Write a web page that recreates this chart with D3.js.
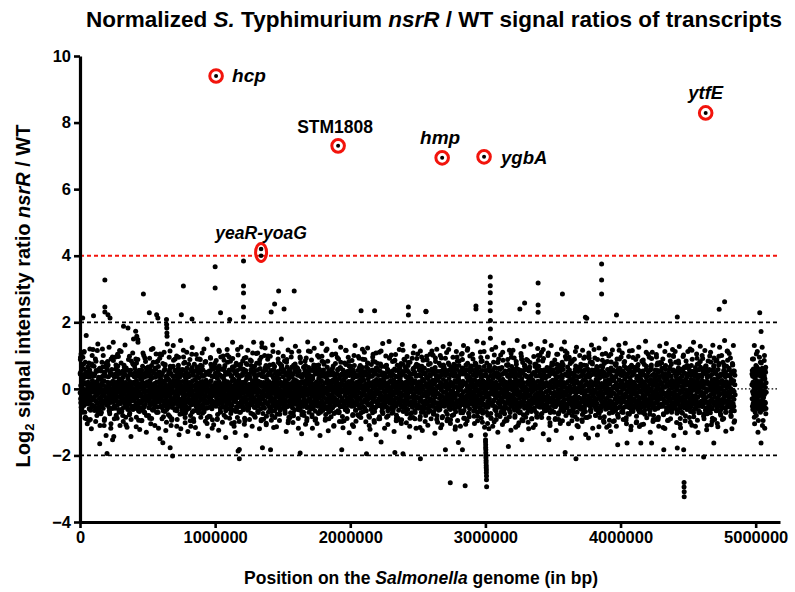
<!DOCTYPE html>
<html><head><meta charset="utf-8">
<script src="https://cdn.jsdelivr.net/npm/d3@7"></script>
<style>
body{margin:0;background:#fff}
svg{display:block}
text{font-family:"Liberation Sans",Arial,Helvetica,sans-serif;font-weight:bold;fill:#000}
</style>
</head><body>
<svg id="chart" width="795" height="592"></svg>
<script>
// ---------- axis ticks / thresholds ----------
const yTickValues = [-4, -2, 0, 2, 4, 6, 8, 10];
const xTickValues = [0, 1000000, 2000000, 3000000, 4000000, 5000000];
const redThreshold = 4;
const blackThresholds = [2, -2];

// ---------- highlighted transcripts ----------
const highlightNames  = ["hcp", "STM1808", "hmp", "ygbA", "ytfE"];
const highlightPosKb  = [1007, 1910, 2680, 2990, 4630];
const highlightRatio  = [9.4, 7.3, 6.94, 6.97, 8.29];
const yeaRName = "yeaR-yoaG";
const yeaRPosKb = [1340, 1340];
const yeaRRatio = [4.2, 4.0];

// ---------- genome-wide transcripts: pairs of [position (kb), log2 ratio x100] ----------
const seg0 = [1,-12,2,45,3,88,5,-30,6,10,8,105,9,-55,11,22,12,-8,14,70,16,-20,17,5,19,-40,20,213,21,95,23,-15,24,30,26,-2,28,60,30,-25,31,112,33,15,35,-70,37,-5,39,80,41,-33,43,18,45,-10,47,50,49,-90,
51,-18,53,12,54,-45,56,3,58,66,59,-28,61,20,63,-7,65,-95,66,35,68,-14,70,8,72,-60,73,120,75,-22,77,0,79,48,80,-35,82,15,84,-120,86,-5,88,75,90,-10,92,25,94,-50,96,-30,98,5,
100,220,101,10,103,-25,105,40,106,-3,108,-65,110,18,112,-12,114,90,115,-35,117,2,119,55,121,-20,123,-8,125,-80,126,22,128,-40,130,14,132,135,134,-15,136,-2,138,30,140,-55,142,8,144,-28,146,62,148,-110,149,0,
151,5,152,-30,154,28,156,-10,158,-70,160,16,161,-22,163,80,165,-4,167,-45,169,12,170,-18,172,100,174,-36,176,24,178,-6,180,50,182,-90,184,327,184,246,184,231,185,-12,187,7,189,-25,191,38,193,-140,195,-1,197,-32,199,65,
200,-194,201,-8,203,20,204,-48,206,-2,207,223,208,72,210,-26,211,11,213,-15,215,125,217,-37,219,4,220,-75,222,213,222,18,224,-20,226,42,228,-9,229,-105,231,15,233,-30,235,58,237,0,239,-12,241,-153,243,23,245,-40,247,85,249,-18,
250,-143,252,8,254,-27,255,35,257,-6,259,-58,261,19,263,-14,264,96,266,-33,268,1,270,47,272,-22,273,13,275,-88,277,-4,279,68,281,-38,282,21,284,-10,286,-62,288,6,290,30,292,-24,293,115,295,-2,297,-45,299,10,
301,14,302,-20,304,78,306,-35,308,2,309,-68,311,24,313,-11,315,52,317,-28,318,-3,320,-98,322,188,322,17,324,-16,326,40,327,-42,329,8,331,-7,333,132,335,-30,337,19,339,-52,341,-1,342,63,344,-21,346,11,348,-115,350,-36,
352,-9,354,30,355,183,355,-25,357,5,359,88,361,-47,363,15,364,-13,366,-78,368,22,370,-31,372,2,374,56,375,-18,377,-143,379,9,381,-4,383,44,384,-60,386,18,388,-23,390,108,392,-8,394,-35,395,73,397,1,399,-14,
400,20,402,-32,404,-6,406,61,407,-50,409,13,411,-19,412,173,413,90,415,-3,417,-85,418,25,420,158,420,-27,422,7,424,38,426,-44,428,148,428,-12,429,140,431,3,433,-66,435,16,437,-37,439,49,440,-9,442,-122,444,12,446,-22,448,30,
451,-16,452,4,454,-41,456,27,458,-95,460,10,461,-24,463,68,465,-1,467,-55,469,285,469,18,470,-30,472,100,474,-11,476,35,478,-70,480,6,481,-35,483,-5,485,82,487,-20,489,14,491,-130,493,-28,494,45,496,-8,498,21];

const seg1 = [501,12,503,-22,504,55,506,-7,508,-80,510,19,511,-33,513,229,513,4,515,92,517,-15,519,-48,520,26,522,-2,524,-105,526,14,528,-26,529,70,531,-10,533,33,535,-62,537,8,539,-18,540,121,542,-38,544,0,546,47,548,-12,
551,-28,552,16,554,-3,556,63,558,-44,560,9,562,-19,563,105,565,-35,567,223,567,20,569,-70,570,-6,572,38,574,-14,576,213,576,84,578,-25,579,2,581,-118,583,22,585,-9,587,51,589,-40,590,11,592,-150,594,-21,596,30,598,-1,
600,7,602,-31,604,44,606,-12,607,-90,609,17,611,-23,613,-162,613,76,615,-4,617,-50,619,23,620,-16,622,110,624,-36,626,3,628,59,629,-68,631,13,633,-8,635,-125,637,25,639,-27,640,208,641,193,642,183,643,168,644,158,644,-1,646,40,648,-17,
651,-20,652,10,654,-56,656,29,658,-9,660,95,661,-38,663,5,665,-83,667,-177,667,18,669,-25,670,48,672,-2,674,-110,676,21,678,-14,679,66,681,-33,683,1,685,-202,685,12,687,-48,689,-7,690,130,692,24,694,-29,696,37,698,-11,
700,15,702,-24,704,-64,706,8,708,52,709,-13,711,-37,713,18,715,99,717,-5,719,-92,720,27,722,-19,724,2,726,-46,728,71,729,-28,731,12,733,-138,735,-9,737,34,739,-52,740,20,742,-2,744,145,746,-33,748,6,
750,223,751,-14,752,9,754,-39,756,58,758,-6,760,-75,761,22,763,-26,765,309,765,116,767,-11,769,42,770,-59,772,4,774,-21,776,80,778,-102,779,16,781,-32,783,-3,785,26,787,-65,789,13,790,-17,792,61,794,-40,796,1,798,-128,
800,11,802,-29,804,36,806,-8,807,-57,809,19,811,-20,813,88,815,-2,817,-44,819,17,820,-112,822,5,824,-34,826,53,828,-15,829,210,830,124,831,-70,833,24,835,-6,837,-27,839,41,840,-90,842,9,844,-18,846,74,848,-37,
851,-4,852,28,854,-48,856,13,858,-22,860,103,861,-31,863,0,865,-66,867,19,869,-12,870,62,872,-39,874,6,876,-135,878,-17,879,33,881,-7,883,90,885,-53,887,15,889,-25,890,-2,892,47,894,-85,896,21,898,-10,
900,-33,902,8,904,69,906,-16,907,-73,909,22,911,-5,913,38,915,-28,917,120,919,-1,920,-44,922,14,924,-20,926,81,928,-97,929,4,931,-36,933,26,935,-9,937,-58,939,17,940,150,942,-23,944,2,946,-142,948,45,
951,12,952,-26,954,-7,956,54,958,-40,960,20,961,-15,963,-83,965,94,967,-2,969,-32,970,24,972,-11,974,66,976,-60,978,7,979,-21,981,132,983,-37,985,10,987,-4,989,-108,990,36,992,-18,994,3,996,-50,998,77];

const seg2 = [1000,367,1000,303,1001,-9,1003,18,1004,-45,1006,5,1008,85,1010,-27,1011,14,1013,-14,1015,-92,1017,31,1019,-6,1020,-33,1022,50,1024,8,1026,-124,1028,-19,1029,22,1031,112,1033,-40,1035,0,1037,41,1039,-68,1040,229,1041,15,1042,-11,1044,60,1046,-28,1048,2,
1051,-21,1052,7,1054,34,1056,-52,1058,-3,1060,99,1061,-36,1063,17,1065,-15,1067,-79,1069,26,1070,-8,1072,70,1074,-30,1076,4,1078,-146,1079,13,1081,-25,1083,45,1085,-58,1087,-1,1089,118,1090,-19,1092,21,1094,-42,1096,9,1098,-7,
1100,16,1102,-34,1104,57,1106,-10,1107,-88,1108,208,1109,3,1111,-23,1113,83,1115,-47,1117,11,1119,-16,1120,38,1122,-104,1124,-4,1126,24,1128,-29,1129,140,1131,6,1133,-64,1135,-13,1137,29,1139,-38,1140,-2,1142,67,1144,-20,1146,12,1148,-131,
1151,-6,1152,22,1154,-30,1156,77,1158,-54,1160,5,1161,-18,1163,40,1165,-86,1167,14,1169,-26,1170,-187,1170,102,1172,-9,1174,28,1176,-43,1178,1,1179,-182,1179,-210,1181,18,1183,-21,1185,60,1187,-70,1189,8,1190,-12,1192,126,1194,-35,1196,19,1198,-3,
1200,10,1202,-27,1204,47,1206,-14,1208,-63,1210,384,1210,309,1210,288,1210,246,1210,216,1211,20,1213,-5,1215,92,1217,-39,1219,3,1220,-96,1222,16,1224,-24,1226,55,1228,-11,1229,-140,1231,27,1233,-33,1235,8,1237,73,1239,-49,1240,-1,1242,116,1244,-20,1246,13,1248,-59,
1251,-17,1252,6,1254,-44,1256,32,1258,-8,1260,87,1261,-30,1263,14,1265,-73,1267,-2,1269,49,1270,-22,1272,9,1274,-112,1276,24,1278,-13,1279,64,1281,-37,1283,2,1285,140,1287,-26,1289,18,1290,-55,1292,-6,1294,36,1296,-85,1298,11,
1300,-9,1302,29,1304,-35,1306,4,1307,77,1309,-50,1311,16,1313,-19,1315,108,1317,-1,1319,-66,1320,23,1322,-28,1324,43,1326,-10,1328,-120,1329,12,1331,-40,1333,61,1335,-7,1337,20,1339,-24,1341,95,1342,-46,1344,7,1345,138,1346,126,1346,-15,1350,-177,
1351,14,1352,-31,1354,52,1356,-12,1358,-91,1360,19,1361,-4,1363,36,1365,-58,1367,8,1369,-22,1370,123,1372,-37,1374,1,1376,70,1378,-103,1379,15,1381,-16,1383,28,1385,-44,1387,-3,1389,89,1390,-25,1392,10,1394,-70,1396,46,1398,-8,
1400,21,1402,-19,1404,-60,1406,6,1408,98,1410,-34,1410,-183,1411,12,1413,-9,1415,231,1415,55,1417,-27,1419,2,1420,-80,1422,17,1424,-14,1426,132,1428,-41,1429,5,1431,33,1433,-116,1435,-6,1437,22,1439,-30,1440,255,1440,67,1442,-1,1444,-52,1446,13,1448,-20,
1451,-12,1452,26,1454,-38,1456,9,1458,-76,1460,44,1461,-3,1463,18,1465,-24,1467,109,1469,-48,1470,294,1470,1,1472,31,1474,-15,1476,-95,1478,14,1479,-29,1481,75,1483,-6,1485,-60,1487,20,1489,-19,1490,150,1492,-36,1494,7,1496,-10,1498,50];

const seg3 = [1500,-27,1502,11,1504,58,1506,-8,1508,-45,1510,240,1510,16,1511,-21,1513,84,1515,-2,1517,-68,1519,25,1520,-33,1522,4,1524,41,1526,-128,1528,-15,1529,19,1531,-4,1533,66,1535,-53,1537,8,1539,-23,1540,117,1542,-11,1544,30,1546,-85,1548,2,
1551,15,1552,-36,1554,-6,1556,48,1558,-72,1560,12,1561,-18,1563,96,1565,-29,1567,3,1569,35,1570,-50,1572,-12,1574,20,1576,-101,1578,9,1579,-25,1581,71,1583,-40,1585,294,1585,-1,1587,27,1589,-63,1590,14,1592,-16,1594,128,1596,-31,1598,5,
1600,-8,1602,24,1604,-47,1606,10,1608,-22,1610,62,1611,-35,1613,1,1615,-89,1617,18,1619,-13,1620,113,1622,-27,1624,6,1626,40,1628,-60,1629,-193,1629,15,1631,-4,1633,79,1635,-38,1637,21,1639,-19,1640,-135,1642,3,1644,34,1646,-50,1648,-10,
1651,18,1652,-24,1654,65,1656,-3,1658,-80,1660,22,1661,-31,1663,8,1665,44,1667,-16,1669,-106,1670,12,1672,-41,1674,93,1676,-7,1678,27,1679,-56,1681,0,1683,-20,1685,141,1687,15,1689,-34,1690,53,1692,-12,1694,-70,1696,25,1698,-2,
1700,-30,1702,7,1704,36,1706,-15,1708,-61,1710,19,1711,-4,1713,87,1715,-43,1717,11,1719,-23,1720,-118,1722,30,1724,-9,1726,58,1728,-37,1729,3,1731,-18,1733,122,1735,-50,1737,16,1739,-6,1740,45,1742,-28,1744,-90,1746,9,1748,70,
1751,-13,1752,21,1754,-33,1756,2,1758,100,1760,-46,1761,14,1763,-21,1765,-74,1767,32,1769,-8,1770,60,1772,-27,1774,5,1776,-140,1778,19,1779,-11,1781,43,1783,-55,1785,-1,1787,24,1789,-36,1790,136,1792,8,1794,-19,1796,-65,1798,50,
1800,6,1802,-25,1804,-8,1806,74,1808,-49,1810,17,1811,-14,1813,39,1815,-94,1817,2,1819,-30,1820,115,1822,20,1824,-10,1826,-60,1828,28,1829,-38,1831,4,1833,83,1835,-17,1837,-126,1839,13,1840,-27,1842,55,1844,-5,1846,-42,1848,23,
1851,-19,1852,9,1854,48,1856,-32,1858,-84,1860,15,1861,-2,1863,102,1865,-23,1867,6,1869,-57,1870,26,1872,-12,1874,69,1876,-36,1878,1,1879,-110,1881,19,1883,-26,1885,37,1887,-7,1889,-71,1890,145,1892,11,1894,-40,1896,28,1898,-14,
1900,21,1902,-33,1904,3,1906,57,1908,-66,1910,13,1911,-18,1913,90,1915,-45,1917,-4,1919,31,1920,-98,1922,8,1924,-22,1926,64,1928,-11,1929,125,1931,-37,1933,17,1935,-1,1937,-183,1937,-52,1939,24,1940,-29,1942,43,1944,-8,1946,-117,1948,12,
1951,-6,1952,27,1954,-41,1956,10,1958,78,1960,-20,1961,2,1963,-63,1965,34,1967,-15,1969,115,1970,-34,1972,18,1974,-3,1976,-89,1978,52,1979,-27,1981,7,1983,-12,1985,95,1987,-48,1989,22,1990,-9,1992,-132,1994,40,1996,-24,1998,5];

const seg4 = [2000,14,2002,-28,2004,62,2006,-5,2008,-52,2010,23,2011,-16,2013,85,2015,-35,2017,4,2019,-77,2020,31,2022,-10,2024,-113,2026,16,2028,-23,2029,48,2031,-42,2033,1,2035,130,2037,-19,2039,9,2040,-64,2042,36,2044,-8,2046,-30,2048,20,
2051,-22,2052,6,2054,39,2056,-46,2058,-3,2060,97,2061,-31,2063,18,2065,-82,2067,-12,2069,26,2070,-58,2072,11,2074,70,2076,-27,2078,2,2079,-150,2080,235,2081,21,2083,-15,2085,54,2087,-38,2089,8,2090,119,2092,-20,2094,-69,2096,29,2098,-5,
2100,-11,2102,25,2104,-57,2106,7,2108,88,2110,-32,2111,13,2113,-19,2115,-99,2117,41,2119,-2,2120,-195,2120,66,2122,-40,2124,15,2126,-24,2128,123,2129,4,2131,-47,2133,30,2135,-9,2137,-81,2139,19,2140,-29,2142,50,2144,-14,2146,-121,2148,10,
2151,17,2152,-26,2154,-6,2156,73,2158,-43,2160,11,2161,-21,2163,38,2165,-72,2167,3,2169,104,2170,-34,2172,22,2174,-11,2176,-95,2178,46,2179,-25,2180,235,2181,6,2183,-17,2185,81,2187,-55,2189,14,2190,-3,2192,-138,2194,28,2196,-37,2198,63,
2200,-8,2202,20,2204,-39,2206,56,2208,-15,2210,-90,2211,9,2213,-28,2215,110,2217,1,2219,-50,2220,26,2222,-12,2224,75,2226,-33,2228,-160,2229,17,2231,-20,2233,42,2235,-67,2237,4,2239,-25,2240,136,2242,13,2244,-45,2246,30,2248,-6,
2251,22,2252,-35,2254,-10,2256,67,2258,-52,2260,8,2261,-19,2263,99,2265,-28,2267,15,2269,-85,2270,35,2272,-3,2274,-23,2276,58,2278,-107,2279,11,2281,-40,2283,19,2285,-9,2287,142,2289,-31,2290,3,2292,-60,2294,44,2296,-16,2298,25,
2300,-25,2302,4,2304,48,2306,-38,2308,-73,2310,18,2311,-7,2313,82,2315,-19,2317,10,2319,-56,2320,27,2322,-33,2324,-128,2326,6,2328,60,2329,-14,2330,-191,2331,21,2333,-44,2335,103,2337,-2,2339,-27,2340,37,2342,-88,2344,13,2346,-11,2348,71,
2351,9,2352,-30,2354,55,2356,-5,2358,-64,2360,23,2361,-17,2363,118,2365,-41,2367,2,2369,30,2370,-95,2372,14,2374,-24,2376,76,2378,-12,2379,-50,2381,20,2383,-35,2385,133,2387,7,2389,-20,2390,-195,2390,45,2392,-68,2394,11,2396,-3,2398,89,
2400,-18,2402,16,2404,-49,2406,3,2408,64,2410,-29,2411,20,2413,-8,2415,-102,2417,35,2419,-21,2420,97,2422,-36,2424,9,2426,-62,2428,24,2429,-13,2430,246,2430,222,2431,51,2433,-45,2435,1,2437,-145,2439,18,2440,-26,2442,80,2444,-4,2446,-75,2448,27,
2451,-9,2452,30,2454,-40,2456,12,2458,92,2460,-54,2461,5,2463,-22,2465,-86,2467,47,2469,-15,2470,19,2472,-31,2474,128,2476,-1,2478,-66,2479,24,2481,-37,2483,68,2485,-10,2487,-118,2489,15,2490,-24,2492,40,2494,-48,2496,7,2498,105];

const seg5 = [2500,13,2502,-27,2504,-4,2506,70,2508,-58,2510,21,2511,-13,2513,43,2515,-91,2517,2,2519,-210,2519,114,2521,-33,2522,18,2524,-8,2526,-70,2528,56,2529,-23,2531,9,2533,-125,2535,29,2537,-39,2539,86,2540,-2,2542,-50,2544,24,2546,-16,2548,62,
2551,-20,2552,10,2554,45,2556,-36,2558,-80,2560,233,2560,232,2561,16,2563,-9,2565,98,2567,-44,2569,5,2570,-25,2572,31,2574,-109,2576,12,2578,-17,2579,73,2581,-54,2583,-3,2585,140,2587,22,2589,-30,2590,-66,2592,38,2594,-11,2596,8,2598,-90,
2600,18,2602,-32,2604,60,2606,-7,2608,-48,2610,26,2611,-19,2613,101,2615,1,2617,-74,2619,14,2620,-37,2622,47,2624,-12,2626,-133,2628,20,2629,-25,2631,82,2633,-5,2635,-59,2637,30,2639,-15,2640,119,2642,-42,2644,7,2646,-100,2648,52,
2651,-14,2652,25,2654,-47,2656,4,2658,77,2660,-29,2661,11,2663,-62,2665,36,2667,-20,2669,-117,2670,18,2672,-3,2674,93,2676,-39,2678,9,2679,-23,2681,55,2683,-83,2685,-8,2687,127,2689,28,2690,-35,2692,-11,2694,64,2696,-52,2698,6,
2700,-26,2702,15,2704,-183,2704,40,2706,-9,2708,-68,2710,22,2711,-38,2713,109,2715,3,2717,-16,2719,52,2720,-90,2722,12,2724,-28,2726,78,2728,-1,2729,-56,2731,31,2733,-18,2735,135,2737,-44,2739,8,2740,-282,2741,-104,2742,20,2744,-10,2746,66,2748,-33,
2751,10,2752,-22,2754,49,2756,-41,2758,-5,2760,95,2761,-30,2763,17,2765,-78,2767,4,2769,38,2770,-60,2772,-13,2774,24,2776,-121,2778,-24,2779,70,2781,6,2783,-45,2785,112,2787,-15,2789,19,2790,-36,2792,58,2794,-95,2796,2,2798,26,
2800,-161,2800,-6,2802,28,2804,-35,2806,84,2808,-53,2810,11,2811,-20,2813,45,2815,-112,2817,-2,2819,19,2820,-30,2822,104,2824,-47,2826,8,2828,-17,2830,-183,2830,63,2832,-72,2834,23,2836,-9,2838,130,2840,-40,2842,14,2844,-26,2846,-88,2848,50,2850,-291,
2851,17,2852,-31,2854,-7,2856,72,2858,-50,2860,13,2861,-21,2863,35,2865,-96,2867,4,2869,121,2870,-38,2872,25,2874,-12,2876,-73,2878,57,2879,-26,2881,9,2883,-60,2885,99,2887,-4,2889,-19,2890,30,2892,-140,2894,18,2896,-33,2898,68,
2900,-10,2902,21,2904,-44,2906,5,2908,90,2910,-28,2911,14,2913,-67,2915,41,2917,-17,2919,-104,2920,27,2922,-6,2924,78,2926,-37,2928,2,2929,-23,2930,249,2930,240,2931,60,2933,-52,2935,12,2937,143,2939,-30,2940,19,2942,-82,2944,-9,2946,47,2948,-20,
2951,23,2952,-34,2954,-3,2956,66,2958,-57,2960,10,2961,-18,2963,111,2965,-40,2967,1,2969,34,2970,-88,2972,17,2974,-26,2976,84,2978,-11,2979,-64,2981,25,2983,-31,2985,138,2987,6,2989,-46,2990,40,2992,-14,2994,-115,2996,20,2998,-2];

const seg6 = [3000,-138,3001,-153,3001,-160,3002,-168,3002,-176,3003,-183,3003,-192,3004,-200,3004,-207,3005,-215,3005,-222,3006,-230,3006,-237,3007,-244,3007,-252,3008,-262,3008,-273,3009,-294,
3001,12,3003,-24,3005,55,3007,-8,3009,-70,3011,18,3013,-14,3015,96,3017,-37,3019,3,3020,-55,3022,29,3024,-19,3026,-120,3028,14,3030,-30,3031,69,3033,6,3035,-43,3036,336,3036,310,3036,289,3036,259,3036,235,3037,205,3037,180,3037,152,3038,-11,3040,40,3042,-88,3044,22,3046,-3,3048,118,
3051,-16,3052,9,3054,-49,3056,31,3058,-2,3060,80,3061,-34,3063,16,3065,-99,3067,-10,3069,47,3070,-62,3072,5,3074,-22,3076,125,3078,20,3079,-28,3081,-7,3083,61,3085,-78,3087,13,3089,-18,3090,34,3092,-130,3094,2,3096,-40,3098,90,
3100,8,3102,-21,3104,43,3106,-13,3108,-83,3110,25,3111,-32,3113,102,3115,0,3117,-56,3119,17,3120,-27,3122,64,3124,-9,3126,-107,3128,29,3129,-38,3131,12,3133,138,3135,-17,3137,-66,3139,22,3140,-4,3142,50,3144,-46,3146,7,3148,-25,
3151,-12,3152,20,3154,-41,3156,72,3158,-6,3160,-95,3161,15,3163,-23,3165,88,3167,-35,3169,3,3170,-173,3170,37,3172,-60,3174,10,3176,-16,3178,116,3179,-30,3181,24,3183,-71,3185,-1,3187,45,3189,-124,3190,13,3192,-20,3194,67,3196,-39,3198,5,
3200,-23,3202,14,3204,-5,3206,59,3208,-44,3210,21,3211,-15,3213,93,3215,-29,3217,7,3219,-80,3220,33,3222,-10,3224,-115,3226,18,3228,-34,3229,74,3231,1,3233,-52,3235,145,3237,-19,3239,25,3240,-63,3242,11,3244,-8,3246,40,3248,-102,
3251,16,3252,-28,3254,51,3255,240,3256,-9,3258,-69,3260,24,3261,-17,3263,106,3265,-40,3267,4,3269,31,3270,-153,3270,-92,3272,12,3274,-22,3276,79,3278,-3,3279,-48,3281,19,3283,-31,3285,127,3287,8,3289,-15,3290,258,3290,-58,3292,42,3294,-11,3296,65,3298,-85,
3300,2,3302,-26,3304,37,3306,-14,3308,-73,3310,20,3311,-6,3313,85,3315,-42,3317,13,3319,-22,3320,-120,3322,28,3324,-35,3326,61,3328,-2,3329,-59,3331,17,3333,-18,3335,134,3337,5,3339,-47,3340,30,3342,-9,3344,-90,3346,22,3348,-28,
3351,-7,3352,26,3354,-43,3356,10,3358,97,3360,-31,3361,4,3363,-64,3365,48,3367,-19,3369,-108,3370,18,3372,-1,3374,75,3376,-37,3378,9,3379,-24,3381,56,3383,-85,3385,-12,3387,121,3389,23,3390,318,3390,252,3390,230,3391,-33,3392,-15,3394,68,3396,-52,3398,3,
3400,-20,3402,12,3404,-55,3406,38,3408,-5,3410,-77,3411,21,3413,-29,3415,110,3417,1,3419,-41,3420,27,3422,-13,3424,84,3426,-34,3428,-135,3429,15,3431,-22,3433,46,3435,-61,3437,6,3439,-27,3440,142,3442,10,3444,-47,3446,33,3448,-9,
3451,19,3452,-33,3454,-8,3456,64,3458,-50,3460,8,3461,-20,3463,100,3465,-25,3467,14,3469,-88,3470,-153,3470,39,3472,-4,3474,-30,3476,59,3478,-110,3479,13,3481,-39,3483,21,3485,-12,3487,130,3489,-28,3490,5,3492,-65,3494,47,3496,-15,3498,26];

const seg7 = [3500,-30,3502,3,3504,50,3506,-38,3508,-70,3510,16,3511,-10,3513,87,3515,-21,3517,11,3519,-53,3520,29,3522,-35,3524,-125,3526,7,3528,61,3529,-16,3531,23,3533,-44,3535,104,3537,-3,3539,-27,3540,36,3542,-92,3544,15,3546,-12,3548,70,
3551,10,3552,-26,3554,58,3556,-4,3558,-63,3560,24,3561,-17,3563,120,3565,-40,3567,3,3569,33,3570,285,3570,-96,3572,13,3574,-22,3576,72,3578,-10,3579,-51,3581,19,3583,-33,3585,141,3587,6,3589,-20,3590,-191,3590,-45,3592,44,3594,-7,3596,-80,3598,90,
3600,-18,3602,17,3604,-46,3606,2,3608,66,3610,-31,3611,22,3613,-6,3615,-105,3617,37,3619,-23,3620,95,3622,-38,3624,8,3626,-67,3628,26,3629,-12,3631,47,3633,-40,3635,1,3637,-148,3639,20,3640,-27,3642,82,3644,-2,3646,-60,3648,30,
3651,-8,3652,28,3654,-36,3656,13,3658,89,3660,-56,3661,4,3663,-24,3665,-84,3667,52,3669,-14,3670,-210,3670,18,3672,-30,3674,125,3676,-1,3678,-70,3679,23,3681,-38,3683,62,3685,-9,3687,-114,3689,16,3690,-25,3692,36,3694,-49,3696,7,3698,100,
3700,15,3702,-29,3704,-3,3706,74,3708,-61,3710,19,3711,-12,3713,41,3715,-93,3717,5,3719,116,3720,-35,3722,26,3724,-11,3726,-71,3728,54,3729,-24,3731,9,3733,-57,3735,96,3737,-5,3739,-18,3740,215,3740,31,3742,-137,3744,14,3746,-32,3748,70,3750,212,
3751,20,3752,-37,3754,-6,3756,60,3758,-48,3760,11,3761,-21,3763,-148,3765,108,3765,-40,3767,2,3769,35,3770,-83,3772,15,3774,-27,3776,80,3778,-9,3779,-62,3781,22,3783,-34,3785,132,3787,8,3789,-50,3790,43,3792,-16,3794,-118,3796,18,3798,-3,
3800,-22,3802,13,3804,52,3806,-42,3808,-5,3810,93,3811,-28,3813,17,3815,-79,3817,-11,3819,28,3820,-54,3822,9,3824,67,3826,-30,3828,1,3829,-139,3831,21,3833,-16,3835,45,3837,-70,3839,4,3840,123,3842,-24,3844,32,3846,-10,3848,-86,
3851,11,3852,-32,3854,-7,3856,69,3858,-55,3860,375,3860,327,3860,285,3861,16,3863,-19,3865,104,3867,-41,3869,5,3870,-25,3872,37,3874,-96,3876,13,3878,-14,3879,76,3881,-46,3883,-2,3885,150,3887,24,3889,-33,3890,-61,3892,40,3894,-10,3896,8,3898,-115,
3900,20,3902,-27,3904,58,3906,-3,3908,-50,3910,27,3911,-17,3913,99,3915,0,3917,-73,3919,15,3920,-36,3922,48,3924,-11,3926,-128,3928,22,3929,-22,3931,81,3933,-6,3935,-60,3937,31,3939,-14,3940,117,3942,-43,3944,6,3946,-98,3948,55,
3951,-13,3952,24,3954,-48,3956,3,3958,75,3960,-30,3961,10,3963,-65,3965,37,3967,-20,3969,-112,3970,222,3970,17,3972,-2,3974,90,3976,-38,3978,8,3979,-168,3979,-24,3981,58,3983,-85,3985,-9,3987,131,3989,27,3990,-34,3992,-12,3994,62,3996,-53,3998,6];

const seg8 = [4000,-26,4002,16,4004,42,4006,-9,4008,-69,4010,23,4011,-36,4013,108,4015,2,4017,-18,4019,53,4020,-92,4022,13,4024,-28,4026,79,4028,-1,4029,-55,4031,30,4033,-20,4035,137,4037,-40,4039,8,4040,-15,4042,63,4044,-105,4046,21,4048,-163,4050,-6,
4051,14,4052,-24,4054,60,4056,-44,4058,-4,4060,97,4061,-31,4063,19,4065,-76,4067,4,4069,34,4070,-57,4072,-12,4074,25,4076,-123,4078,10,4079,-21,4081,71,4083,-48,4085,-3,4087,115,4089,18,4090,-33,4092,-68,4094,44,4096,-14,4098,7,
4100,20,4102,-30,4104,-7,4106,57,4108,-52,4110,12,4111,-16,4113,88,4115,-39,4117,2,4119,-99,4120,31,4122,-22,4124,5,4126,69,4128,-11,4129,-62,4131,24,4133,-35,4135,125,4137,9,4139,-26,4140,-113,4142,38,4144,-5,4146,-45,4148,15,4150,-163,
4151,-10,4152,27,4154,-42,4156,8,4158,84,4160,-28,4161,16,4163,-71,4165,46,4167,-19,4169,1,4170,-106,4172,21,4174,-34,4176,73,4178,-6,4179,-53,4181,13,4183,-23,4185,143,4187,4,4189,-47,4190,35,4192,-12,4194,-87,4196,25,4198,-2,
4200,-33,4202,7,4204,51,4206,-15,4208,-60,4210,22,4211,-8,4213,95,4215,-41,4217,15,4219,-25,4220,-130,4222,28,4224,-3,4226,65,4228,-37,4229,1,4230,-163,4231,18,4233,-20,4235,110,4237,-51,4239,10,4240,-11,4242,40,4244,-80,4246,26,4248,-29,
4251,12,4252,-18,4254,-44,4256,36,4258,-6,4260,-92,4261,17,4263,-27,4265,103,4267,3,4269,-39,4270,25,4272,-13,4274,78,4276,-58,4278,8,4279,-22,4281,50,4283,-112,4285,-1,4287,30,4289,-31,4290,129,4292,14,4294,-47,4296,21,4298,-9,
4300,-21,4302,18,4304,-1,4306,62,4308,-49,4310,11,4311,-29,4313,90,4315,-10,4317,-75,4319,33,4320,-183,4320,4,4322,-35,4324,44,4326,-16,4328,-119,4329,23,4331,-40,4333,70,4335,7,4337,-23,4339,136,4340,-57,4342,15,4344,-12,4346,29,4348,-95,
4351,9,4352,-25,4354,47,4356,-38,4358,-4,4360,101,4361,-19,4363,20,4365,-64,4367,-11,4369,38,4370,-90,4372,12,4374,-30,4376,75,4378,2,4379,-51,4381,26,4383,-15,4385,118,4387,-42,4389,6,4390,-27,4392,57,4394,-140,4396,17,4398,-8,
4400,-14,4402,22,4404,-50,4406,5,4408,80,4410,-33,4411,14,4413,-21,4415,-101,4417,43,4419,-3,4420,216,4420,-178,4420,28,4422,-39,4424,9,4426,-69,4428,63,4429,-17,4431,18,4433,-28,4435,127,4437,-6,4439,-58,4440,32,4442,-12,4444,-117,4446,21,4448,-35,
4451,7,4452,-26,4454,56,4456,-9,4458,-73,4460,24,4461,-40,4463,97,4465,-1,4467,-183,4467,-55,4469,16,4470,-281,4470,-295,4471,-309,4471,-324,4472,-20,4474,66,4476,-32,4478,10,4479,-132,4481,27,4483,-13,4485,84,4487,-45,4489,-4,4490,35,4492,-62,4494,19,4496,-25,4498,112];

const seg9 = [4500,-16,4502,11,4504,-43,4506,46,4508,-7,4510,-86,4511,20,4513,-30,4515,120,4517,3,4519,-55,4520,28,4522,-12,4524,70,4526,-36,4528,-109,4529,14,4531,-22,4533,52,4535,-4,4537,-67,4539,25,4540,140,4542,-28,4544,8,4546,-46,4548,37,
4551,-21,4552,17,4554,64,4556,-3,4558,-59,4560,22,4561,-34,4563,105,4565,-11,4567,9,4569,-94,4570,30,4572,-25,4574,-131,4576,15,4578,-6,4579,76,4581,-43,4583,2,4585,41,4587,-70,4589,19,4590,128,4592,-19,4594,-38,4596,10,4598,58,
4600,-10,4602,26,4604,-36,4606,4,4608,91,4610,-52,4611,12,4613,-24,4615,-205,4615,-82,4617,47,4619,-15,4620,21,4622,-31,4624,115,4626,1,4628,-64,4629,16,4631,-27,4633,69,4635,-9,4637,-123,4639,23,4640,-40,4642,35,4644,-2,4646,-57,4648,84,
4651,13,4652,-22,4654,-48,4656,39,4658,-4,4660,99,4661,-37,4663,18,4665,-72,4667,5,4669,-18,4670,56,4672,-108,4674,10,4676,-30,4678,27,4679,-60,4681,-7,4683,131,4685,20,4687,-42,4689,2,4690,-163,4690,66,4692,-15,4694,29,4696,-92,4698,8,
4700,-25,4702,15,4704,50,4706,-11,4708,-66,4710,24,4711,-3,4713,87,4715,-40,4717,12,4719,-28,4720,-114,4722,34,4724,-8,4726,72,4728,-47,4729,4,4730,239,4731,-19,4733,125,4735,21,4737,-33,4739,-75,4740,43,4742,-1,4744,-52,4746,16,4748,100,
4751,-14,4752,25,4754,-41,4756,8,4758,80,4760,-30,4761,18,4763,-89,4765,-6,4767,55,4769,-24,4770,262,4770,145,4772,10,4774,-58,4776,36,4778,-13,4779,-127,4781,22,4783,-37,4785,68,4787,3,4789,-20,4790,113,4792,-49,4794,14,4796,-9,4798,40,
4800,-27,4802,11,4804,62,4806,-16,4808,-54,4810,20,4811,-38,4813,93,4815,1,4817,-79,4819,29,4820,-10,4822,47,4824,-120,4826,17,4828,-25,4829,73,4831,-4,4833,-44,4835,130,4837,24,4839,-31,4840,-8,4842,54,4844,-96,4846,12,4848,-18];

const segEnd = [4972,12,4974,-30,4975,55,4977,-8,4979,-62,4980,20,4982,-15,4984,90,4985,-40,4987,5,4989,-22,4990,130,4992,-105,4993,33,4995,-5,4997,-48,4998,14,5000,-28,5002,70,5003,-12,5005,-80,5007,25,5008,-35,5010,2,5012,112,5013,-18,5015,42,5017,-130,5018,8,5020,-24,5022,60,5023,-55,5025,17,5027,-9,5028,95,5030,229,5030,-38,5032,22,5033,-3,5035,-70,5037,38,5038,-20,5040,172,5040,-163,5040,6,5042,78,5043,-45,5045,15,5047,-14,5048,125,5050,-32,5052,28,5053,-6,5055,-95,5057,50,5058,-26,5060,10,5062,-60,5063,85,5065,-17,5067,-118,5068,30,5070,-40,5072,4,5074,65,5075,-75,5077,18,5078,-10];

// second probe set (same layout): [position (kb), log2 ratio x100]
const probes0 = [2,48,6,-42,10,55,14,-58,18,40,22,-37,26,75,30,-50,34,44,38,-88,42,36,46,160,52,-45,56,52,60,-39,64,41,68,-60,72,57,76,-92,80,38,84,-47,88,70,92,-54,96,118,
102,39,106,-51,110,46,114,-36,118,83,122,-57,126,53,130,-44,134,-72,138,35,142,59,146,-165,152,-40,156,54,160,-49,164,37,168,66,172,-58,176,42,180,-95,184,50,188,-38,192,77,196,-48,
202,58,206,-44,210,36,214,-55,218,-68,222,49,226,-41,230,90,234,45,238,-59,242,-36,246,140,252,-52,256,43,260,-37,264,60,268,-79,272,38,276,-49,280,55,284,97,288,-43,292,46,296,-110,
302,47,306,-40,310,-61,314,52,318,35,322,-56,326,71,330,-39,334,44,338,-85,342,57,346,-46,352,-58,356,39,360,55,364,-44,368,-73,372,48,376,-37,380,84,384,-52,388,42,392,-62,396,150,
402,36,406,-53,410,50,414,-41,418,78,422,-60,426,43,430,-48,434,-94,438,56,442,39,446,-57,452,-43,456,57,460,-36,464,46,468,-65,472,40,476,-54,480,93,484,-47,488,51,492,-80,496,38];

const probes1 = [502,54,506,-38,510,-57,514,44,518,62,522,-47,526,37,530,-89,534,53,538,-42,542,80,546,-58,552,-49,556,35,560,58,564,-40,568,-70,572,45,576,-55,580,67,584,41,588,-36,592,105,596,-52,
602,40,606,-56,610,48,614,-37,618,-84,622,55,626,-45,630,73,634,36,638,-53,642,-62,646,135,652,-38,656,51,660,-47,664,59,668,68,672,-41,676,43,680,-90,684,-56,688,37,692,86,696,-44,
702,56,706,-43,710,38,714,-59,718,-66,722,47,726,-38,730,95,734,52,738,-50,742,40,746,-120,752,-55,756,44,760,-40,764,57,768,77,772,-46,776,36,780,-73,784,-52,788,49,792,62,796,-37,
802,45,806,-59,810,39,814,-42,818,-80,822,58,826,-48,830,64,834,42,838,-36,842,-98,846,54,852,-41,856,53,860,-54,864,37,868,90,872,-45,876,48,880,-63,884,-38,888,56,892,71,896,-58,
902,38,906,-47,910,57,914,-55,918,-69,922,41,926,-39,930,82,934,50,938,-44,942,-86,946,46,952,-56,956,43,960,-37,964,54,968,74,972,-51,976,39,980,-93,984,-45,988,59,992,66,996,-40];

const probes2 = [1002,47,1006,-52,1010,36,1014,-40,1018,-77,1022,56,1026,-46,1030,69,1034,42,1038,-58,1042,96,1046,-38,1052,-44,1056,58,1060,-55,1064,39,1068,63,1072,-38,1076,50,1080,-85,1084,-49,1088,45,1092,80,1096,-60,
1102,53,1106,-41,1110,44,1114,-57,1118,-66,1122,37,1126,-50,1130,91,1134,56,1138,-36,1142,-101,1146,48,1152,-39,1156,46,1160,-58,1164,55,1168,72,1172,-44,1176,40,1180,-70,1184,-53,1188,38,1192,62,1196,-47,
1202,41,1206,-54,1210,59,1214,-37,1218,-88,1222,49,1226,-42,1230,76,1234,36,1238,-57,1242,-64,1246,44,1252,-51,1256,37,1260,-43,1264,57,1268,84,1272,-48,1276,52,1280,-76,1284,-40,1288,45,1292,68,1296,-56,
1302,55,1306,-45,1310,40,1314,-52,1318,-71,1322,58,1326,-37,1330,87,1334,43,1338,-60,1342,-92,1346,38,1352,-47,1356,50,1360,-56,1364,36,1368,63,1372,-39,1376,57,1380,-82,1384,-44,1388,41,1392,99,1396,-51,
1402,44,1406,-38,1410,53,1414,-59,1418,-67,1422,40,1426,-49,1430,74,1434,58,1438,-42,1442,-86,1446,47,1452,-57,1456,39,1460,-41,1464,52,1468,79,1472,-53,1476,45,1480,-64,1484,-36,1488,60,1492,70,1496,-46];

const probes3 = [1502,36,1506,-55,1510,56,1514,-44,1518,-73,1522,47,1526,-39,1530,88,1534,41,1538,-52,1542,-95,1546,55,1552,-42,1556,58,1560,-48,1564,38,1568,66,1572,-57,1576,44,1580,-81,1584,-38,1588,51,1592,75,1596,-45,
1602,52,1606,-37,1610,41,1614,-58,1618,-63,1622,54,1626,-46,1630,92,1634,37,1638,-50,1642,-78,1646,43,1652,-53,1656,45,1660,-40,1664,57,1668,70,1672,-45,1676,39,1680,-89,1684,-55,1688,48,1692,64,1696,-38,
1702,40,1706,-49,1710,55,1714,-41,1718,-84,1722,37,1726,-58,1730,72,1734,53,1738,-43,1742,-67,1746,59,1752,-36,1756,50,1760,-52,1764,43,1768,95,1772,-47,1776,56,1780,-70,1784,-41,1788,38,1792,83,1796,-59,
1802,57,1806,-44,1810,37,1814,-56,1818,-77,1822,46,1826,-39,1830,65,1834,40,1838,-53,1842,-90,1846,52,1852,-48,1856,42,1860,-57,1864,55,1868,61,1872,-40,1876,47,1880,-74,1884,-50,1888,39,1892,105,1896,-43,
1902,45,1906,-41,1910,59,1914,-48,1918,-69,1922,38,1926,-54,1930,80,1934,44,1938,-37,1942,-83,1946,57,1952,-54,1956,37,1960,-45,1964,50,1968,73,1972,-58,1976,42,1980,-65,1984,-39,1988,53,1992,68,1996,-47];

const probes4 = [2002,50,2006,-47,2010,43,2014,-39,2018,-80,2022,57,2026,-52,2030,70,2034,38,2038,-45,2042,-97,2046,41,2052,-37,2056,55,2060,-50,2064,40,2068,64,2072,-56,2076,48,2080,-72,2084,-43,2088,36,2092,89,2096,-54,
2102,43,2106,-58,2110,52,2114,-40,2118,-66,2122,45,2126,-36,2130,77,2134,59,2138,-49,2142,-85,2146,38,2152,-45,2156,39,2160,-53,2164,57,2168,84,2172,-38,2176,51,2180,-68,2184,-57,2188,44,2192,63,2196,-42,
2202,56,2206,-36,2210,40,2214,-51,2218,-90,2222,53,2226,-47,2230,67,2234,42,2238,-59,2242,-74,2246,48,2252,-50,2256,46,2260,-42,2264,37,2268,71,2272,-55,2276,58,2280,-81,2284,-38,2288,49,2292,94,2296,-44,
2302,39,2306,-57,2310,54,2314,-45,2318,-62,2322,41,2326,-40,2330,86,2334,55,2338,-52,2342,-79,2346,36,2352,-43,2356,58,2360,-37,2364,47,2368,66,2372,-50,2376,40,2380,-93,2384,-56,2388,52,2392,73,2396,-39,
2402,52,2406,-46,2410,38,2414,-58,2418,-75,2422,56,2426,-41,2430,79,2434,37,2438,-48,2442,-88,2446,45,2452,-39,2456,44,2460,-55,2464,59,2468,62,2472,-43,2476,50,2480,-71,2484,-47,2488,38,2492,91,2496,-57];

const probes5 = [2502,41,2506,-50,2510,57,2514,-38,2518,-83,2522,39,2526,-56,2530,68,2534,53,2538,-41,2542,-70,2546,46,2552,-58,2556,48,2560,-42,2564,36,2568,87,2572,-47,2576,55,2580,-64,2584,-37,2588,43,2592,76,2596,-52,
2602,55,2606,-39,2610,46,2614,-53,2618,-68,2622,58,2626,-44,2630,93,2634,40,2638,-57,2642,-81,2646,37,2652,-46,2656,37,2660,-57,2664,52,2668,70,2672,-40,2676,42,2680,-87,2684,-51,2688,56,2692,65,2696,-43,
2702,48,2706,-42,2710,55,2714,-46,2718,-76,2722,44,2726,-38,2730,73,2734,57,2738,-55,2742,-93,2746,41,2752,-40,2756,56,2760,-48,2764,40,2768,61,2772,-58,2776,47,2780,-69,2784,-42,2788,37,2792,84,2796,-55,
2802,38,2806,-55,2810,50,2814,-43,2818,-72,2822,53,2826,-37,2830,88,2834,45,2838,-47,2842,-65,2846,58,2852,-53,2856,43,2860,-39,2864,58,2868,77,2872,-49,2876,38,2880,-84,2884,-45,2888,50,2892,69,2896,-41,
2902,57,2906,-45,2910,41,2914,-52,2918,-64,2922,47,2926,-57,2930,75,2934,39,2938,-40,2942,-96,2946,53,2952,-44,2956,51,2960,-56,2964,44,2968,82,2972,-37,2976,55,2980,-73,2984,-50,2988,41,2992,67,2996,-48];

const probes6 = [3002,44,3006,-56,3010,38,3014,-48,3018,-79,3022,56,3026,-41,3030,70,3034,52,3038,-44,3042,-88,3046,39,3052,-49,3056,57,3060,-38,3064,45,3068,64,3072,-53,3076,40,3080,-92,3084,-57,3088,48,3092,80,3096,-42,
3102,39,3106,-47,3110,58,3114,-55,3118,-70,3122,43,3126,-37,3130,86,3134,46,3138,-58,3142,-75,3146,54,3152,-57,3156,46,3160,-44,3164,39,3168,73,3172,-40,3176,56,3180,-66,3184,-48,3188,37,3192,95,3196,-53,
3202,53,3206,-37,3210,44,3214,-59,3218,-85,3222,50,3226,-46,3230,62,3234,41,3238,-52,3242,-68,3246,58,3252,-42,3256,40,3260,-53,3264,55,3268,89,3272,-45,3276,47,3280,-78,3284,-39,3288,57,3292,71,3296,-56,
3302,58,3306,-50,3310,37,3314,-42,3318,-63,3322,54,3326,-55,3330,79,3334,38,3338,-46,3342,-90,3346,43,3352,-38,3356,49,3360,-58,3364,46,3368,67,3372,-43,3376,39,3380,-82,3384,-52,3388,55,3392,86,3396,-45,
3402,46,3406,-44,3410,56,3414,-37,3418,-74,3422,40,3426,-51,3430,91,3434,57,3438,-56,3442,-66,3446,36,3452,-55,3456,38,3460,-41,3464,53,3468,62,3472,-57,3476,44,3480,-71,3484,-38,3488,49,3492,78,3496,-50];

const probes7 = [3502,57,3506,-40,3510,45,3514,-54,3518,-89,3522,38,3526,-47,3530,74,3534,50,3538,-36,3542,-72,3546,55,3552,-46,3556,54,3560,-52,3564,41,3568,80,3572,-39,3576,58,3580,-64,3584,-55,3588,43,3592,97,3596,-48,
3602,40,3606,-57,3610,52,3614,-45,3618,-67,3622,57,3626,-38,3630,85,3634,43,3638,-50,3642,-80,3646,47,3652,-43,3656,42,3660,-49,3664,58,3668,69,3672,-54,3676,37,3680,-91,3684,-41,3688,52,3692,64,3696,-58,
3702,55,3706,-53,3710,39,3714,-40,3718,-77,3722,46,3726,-56,3730,71,3734,56,3738,-45,3742,-86,3746,40,3752,-38,3756,59,3760,-44,3764,48,3768,92,3772,-51,3776,41,3780,-69,3784,-47,3788,57,3792,75,3796,-39,
3802,48,3806,-39,3810,57,3814,-56,3818,-62,3822,40,3826,-43,3830,88,3834,54,3838,-58,3842,-73,3846,44,3852,-51,3856,44,3860,-37,3864,55,3868,66,3872,-46,3876,50,3880,-84,3884,-53,3888,38,3892,81,3896,-44,
3902,42,3906,-58,3910,47,3914,-41,3918,-94,3922,58,3926,-50,3930,63,3934,39,3938,-39,3942,-70,3946,56,3952,-47,3956,53,3960,-54,3964,37,3968,76,3972,-42,3976,45,3980,-79,3984,-57,3988,51,3992,90,3996,-36];

const probes8 = [4002,56,4006,-42,4010,40,4014,-57,4018,-71,4022,49,4026,-38,4030,82,4034,44,4038,-53,4042,-87,4046,37,4052,-40,4056,47,4060,-55,4064,57,4068,65,4072,-44,4076,52,4080,-67,4084,-39,4088,41,4092,94,4096,-58,
4102,51,4106,-37,4110,58,4114,-47,4118,-82,4122,38,4126,-54,4130,73,4134,56,4138,-45,4142,-64,4146,49,4152,-56,4156,40,4160,-43,4164,54,4168,87,4172,-50,4176,42,4180,-76,4184,-37,4188,58,4192,68,4196,-46,
4202,39,4206,-50,4210,55,4214,-40,4218,-66,4222,57,4226,-47,4230,91,4234,41,4238,-56,4242,-93,4246,44,4252,-44,4256,57,4260,-58,4264,43,4268,72,4272,-38,4276,55,4280,-85,4284,-49,4288,37,4292,79,4296,-53,
4302,53,4306,-46,4310,41,4314,-52,4318,-78,4322,45,4326,-36,4330,66,4334,58,4338,-43,4342,-70,4346,40,4352,-37,4356,46,4360,-51,4364,58,4368,84,4372,-55,4376,39,4380,-62,4384,-44,4388,54,4392,97,4396,-41,
4402,47,4406,-57,4410,36,4414,-45,4418,-73,4422,56,4426,-42,4430,77,4434,48,4438,-50,4442,-89,4446,59,4452,-52,4456,38,4460,-46,4464,51,4468,63,4472,-57,4476,47,4480,-81,4484,-39,4488,44,4492,70,4496,-55];

const probes9 = [4502,44,4506,-41,4510,57,4514,-56,4518,-68,4522,40,4526,-48,4530,89,4534,52,4538,-37,4542,-84,4546,48,4552,-58,4556,53,4560,-39,4564,42,4568,74,4572,-47,4576,57,4580,-72,4584,-52,4588,39,4592,65,4596,-44,
4602,38,4606,-53,4610,48,4614,-44,4618,-90,4622,55,4626,-40,4630,69,4634,45,4638,-57,4642,-75,4646,52,4652,-45,4656,58,4660,-50,4664,39,4668,81,4672,-56,4676,43,4680,-88,4684,-38,4688,56,4692,93,4696,-49,
4702,50,4706,-38,4710,44,4714,-55,4718,-65,4722,58,4726,-51,4730,76,4734,37,4738,-46,4742,-79,4746,45,4752,-49,4756,41,4760,-57,4764,56,4768,68,4772,-41,4776,49,4780,-70,4784,-56,4788,40,4792,86,4796,-43,
4802,57,4806,-47,4810,39,4814,-40,4818,-83,4822,47,4826,-58,4830,72,4834,54,4838,-52,4842,-66,4846,41];

const probesEnd = [4973,45,4976,-52,4978,38,4981,-45,4983,60,4986,-58,4988,50,4991,-40,4994,44,4996,-70,4999,55,5001,-47,5004,40,5006,-55,5009,66,5011,-42,5014,52,5016,-60,5019,47,5021,-38,5024,58,5026,-50,5029,42,5031,-66,5034,56,5036,-44,5039,48,5041,-57,5044,40,5046,-52,5049,62,5051,-40,5054,45,5056,-62,5059,53,5061,-46,5064,39,5066,-55,5069,57,5071,-43,5073,50,5076,-59];

// third probe set, wider spread: [position (kb), log2 ratio x100]
const probesWide = [4,95,16,-70,28,110,40,-85,54,-105,66,78,78,-64,90,100,104,68,116,-98,128,115,140,-62,154,-75,166,120,178,-110,190,66,204,82,216,-66,228,-118,240,96,254,-90,266,72,278,104,290,-70,
304,112,316,-80,328,64,340,-108,354,-62,366,98,378,-92,390,76,404,70,416,-114,428,88,440,-68,454,-96,466,108,478,-72,490,62,504,66,516,-88,528,118,540,-64,554,-110,566,80,578,-70,590,92,
604,102,616,-66,628,70,640,-100,654,-78,666,114,678,-94,690,68,704,90,716,-112,728,62,740,-76,754,-64,766,96,778,-86,790,110,804,74,816,-96,828,104,840,-66,854,-116,866,66,878,-72,890,88,
904,108,916,-64,928,80,940,-104,954,-82,966,92,978,-118,990,70,1004,64,1016,-90,1028,116,1040,-70,1054,-100,1066,86,1078,-66,1090,102,1104,96,1116,-74,1128,66,1140,-112,1154,-68,1166,118,1178,-98,1190,74,
1204,84,1216,-106,1228,94,1240,-62,1254,-92,1266,70,1278,108,1290,-80,1304,106,1316,-68,1328,76,1340,-96,1354,-74,1366,100,1378,-108,1390,64,1404,72,1416,-94,1428,112,1440,-66,1454,-114,1466,90,1478,-76,1490,68,
1504,98,1516,-62,1528,80,1540,-102,1554,-86,1566,110,1578,-72,1590,62,1604,64,1616,-118,1628,96,1640,-68,1654,-70,1666,84,1678,-96,1690,114,1704,112,1716,-78,1728,66,1740,-94,1754,-104,1766,72,1778,-64,1790,98,
1804,80,1816,-90,1828,120,1840,-70,1854,-66,1866,104,1878,-112,1890,76,1904,94,1916,-72,1928,62,1940,-98,1954,-96,1966,116,1978,-68,1990,82,2004,68,2016,-108,2028,100,2040,-64,2054,-78,2066,92,2078,-86,2090,64,
2104,110,2116,-66,2128,78,2140,-110,2154,-62,2166,96,2178,-100,2190,108,2204,76,2216,-84,2228,114,2240,-72,2254,-118,2266,70,2278,-66,2290,92,2304,102,2316,-70,2328,84,2340,-96,2354,-88,2366,62,2378,-104,2390,116,
2404,86,2416,-64,2428,70,2440,-112,2454,-72,2466,108,2478,-90,2490,74,2504,66,2516,-116,2528,96,2540,-66,2554,-98,2566,88,2578,-70,2590,104,2604,114,2616,-76,2628,64,2640,-92,2654,-64,2666,100,2678,-108,2690,72,
2704,92,2716,-96,2728,118,2740,-62,2754,-80,2766,74,2778,-114,2790,96,2804,70,2816,-66,2828,106,2840,-88,2854,-106,2866,116,2878,-74,2890,66,2904,104,2916,-82,2928,72,2940,-70,2954,-68,2966,94,2978,-100,2990,112,
3010,78,3016,-104,3028,64,3040,-74,3054,-112,3066,102,3078,-66,3090,80,3104,62,3116,-70,3128,110,3140,-98,3154,-90,3166,70,3178,-84,3190,106,3204,116,3216,-64,3228,82,3240,-110,3254,-72,3266,98,3278,-96,3290,68,
3304,88,3316,-100,3328,66,3340,-68,3354,-116,3366,74,3378,-72,3390,100,3404,100,3416,-86,3428,118,3440,-64,3454,-64,3466,108,3478,-102,3490,70,3504,74,3516,-92,3528,104,3540,-76,3554,-104,3566,66,3578,-68,3590,114,
3604,108,3616,-72,3628,76,3640,-96,3654,-70,3666,112,3678,-110,3690,64,3704,66,3716,-98,3728,92,3740,-68,3754,-86,3766,100,3778,-64,3790,80,3804,118,3816,-80,3828,62,3840,-114,3854,-66,3866,86,3878,-100,3890,106,
3904,82,3916,-110,3928,104,3940,-70,3954,-96,3966,70,3978,-76,3990,116,4004,96,4016,-66,4028,68,4040,-94,4054,-74,4066,114,4078,-112,4090,66,4104,64,4116,-102,4128,98,4140,-70,4154,-108,4166,80,4178,-64,4190,110,
4204,104,4216,-76,4228,72,4240,-98,4254,-62,4266,96,4278,-92,4290,74,4304,78,4316,-116,4328,112,4340,-66,4354,-94,4366,66,4378,-70,4390,100,4404,112,4416,-64,4428,84,4440,-106,4454,-70,4466,102,4478,-96,4490,64,
4504,68,4516,-100,4528,116,4540,-72,4554,-112,4566,92,4578,-66,4590,82,4604,100,4616,-76,4628,64,4640,-110,4654,-66,4666,110,4678,-98,4690,70,4704,84,4716,-104,4728,98,4740,-64,4754,-92,4766,72,4778,-70,4790,114,
4804,106,4816,-68,4828,76,4840,-100,4976,90,4990,-85,5005,105,5020,-95,5035,80,5050,-110,5065,100];

// ---------- build ----------
const segments = [seg0, seg1, seg2, seg3, seg4, seg5, seg6, seg7, seg8, seg9, segEnd,
  probes0, probes1, probes2, probes3, probes4, probes5, probes6, probes7, probes8, probes9, probesEnd, probesWide];
const points = [];
segments.forEach(s => { for (let i = 0; i < s.length; i += 2) points.push({pos: s[i] * 1000, ratio: s[i + 1] / 100}); });

const svg = d3.select("#chart");
const x = d3.scaleLinear().domain([0, 5180000]).range([80, 780]);
const y = d3.scaleLinear().domain([-4, 10]).range([522, 56]);
const RED = "#f2140c";

// threshold lines (under points)
svg.append("line").attr("x1", x(0)).attr("x2", 777).attr("y1", y(0)).attr("y2", y(0))
  .attr("stroke", "#000").attr("stroke-width", 1.2).attr("stroke-dasharray", "1.6,2.2");
blackThresholds.forEach(t => {
  svg.append("line").attr("x1", x(0)).attr("x2", 777).attr("y1", y(t)).attr("y2", y(t))
    .attr("stroke", "#000").attr("stroke-width", 1.8).attr("stroke-dasharray", "4,3");
});
svg.append("line").attr("x1", x(0)).attr("x2", 777).attr("y1", y(redThreshold)).attr("y2", y(redThreshold))
  .attr("stroke", RED).attr("stroke-width", 2).attr("stroke-dasharray", "4,3");

// points
svg.append("g").selectAll("circle").data(points).join("circle")
  .attr("cx", d => x(d.pos)).attr("cy", d => y(d.ratio)).attr("r", 2.5).attr("fill", "#000");

// highlighted
const hl = highlightNames.map((n, i) => ({name: n, pos: highlightPosKb[i] * 1000, ratio: highlightRatio[i]}));
const hg = svg.append("g");
hg.selectAll("circle.dot").data(hl).join("circle").attr("class", "dot")
  .attr("cx", d => x(d.pos)).attr("cy", d => y(d.ratio)).attr("r", 2).attr("fill", "#000");
hg.selectAll("circle.ring").data(hl).join("circle").attr("class", "ring")
  .attr("cx", d => x(d.pos)).attr("cy", d => y(d.ratio)).attr("r", 6.3)
  .attr("fill", "none").attr("stroke", RED).attr("stroke-width", 3);

const yeaR = yeaRPosKb.map((p, i) => ({pos: p * 1000, ratio: yeaRRatio[i]}));
hg.selectAll("circle.ydot").data(yeaR).join("circle").attr("class", "ydot")
  .attr("cx", d => x(d.pos)).attr("cy", d => y(d.ratio)).attr("r", 2.3).attr("fill", "#000");
const ym = d3.mean(yeaR, d => d.ratio);
hg.append("ellipse").attr("cx", x(yeaRPosKb[0] * 1000)).attr("cy", y(ym))
  .attr("rx", 5.5).attr("ry", 9).attr("fill", "none").attr("stroke", RED).attr("stroke-width", 3);

// labels for highlighted genes
const labelSpec = {
  "hcp":     {dx: 16,  dy: 6,   anchor: "start",  italic: true,  size: 19},
  "STM1808": {dx: -3,  dy: -13, anchor: "middle", italic: false, size: 17.5},
  "hmp":     {dx: -2,  dy: -14, anchor: "middle", italic: true,  size: 19},
  "ygbA":    {dx: 17,  dy: 7,   anchor: "start",  italic: true,  size: 18.5},
  "ytfE":    {dx: 0,   dy: -14, anchor: "middle", italic: true,  size: 18.5}
};
hg.selectAll("text.gl").data(hl).join("text").attr("class", "gl")
  .attr("x", d => x(d.pos) + labelSpec[d.name].dx)
  .attr("y", d => y(d.ratio) + labelSpec[d.name].dy)
  .attr("text-anchor", d => labelSpec[d.name].anchor)
  .attr("font-style", d => labelSpec[d.name].italic ? "italic" : "normal")
  .attr("font-size", d => labelSpec[d.name].size).text(d => d.name);
hg.append("text").attr("x", x(yeaRPosKb[0] * 1000)).attr("y", y(ym) - 13)
  .attr("text-anchor", "middle").attr("font-style", "italic").attr("font-size", 17.5).text(yeaRName);

// axes
const yAxis = d3.axisLeft(y).tickValues(yTickValues).tickSize(6).tickSizeOuter(0).tickPadding(3);
const xAxis = d3.axisBottom(x).tickValues(xTickValues).tickSize(6).tickSizeOuter(0).tickPadding(3).tickFormat(d3.format("d"));
const gy = svg.append("g").attr("transform", `translate(${x(0)},0)`).call(yAxis);
const gx = svg.append("g").attr("transform", `translate(0,${y(-4)})`).call(xAxis);
[gx, gy].forEach(g => {
  g.select(".domain").attr("stroke", "#000").attr("stroke-width", 3.2);
  g.selectAll(".tick line").attr("stroke", "#000").attr("stroke-width", 2.6);
  g.selectAll(".tick text").attr("font-size", 16.5).attr("font-family", "Liberation Sans, Arial, sans-serif").attr("font-weight", "bold").attr("fill", "#000");
});

// titles
const title = svg.append("text").attr("x", 434).attr("y", 27).attr("text-anchor", "middle").attr("font-size", 22.5);
title.append("tspan").text("Normalized ");
title.append("tspan").attr("font-style", "italic").text("S.");
title.append("tspan").text(" Typhimurium ");
title.append("tspan").attr("font-style", "italic").text("nsrR");
title.append("tspan").text(" / WT signal ratios of transcripts");

const xl = svg.append("text").attr("x", 421).attr("y", 584).attr("text-anchor", "middle").attr("font-size", 17.5);
xl.append("tspan").text("Position on the ");
xl.append("tspan").attr("font-style", "italic").text("Salmonella");
xl.append("tspan").text(" genome (in bp)");

const yl = svg.append("text").attr("transform", "translate(30,296) rotate(-90)").attr("text-anchor", "middle").attr("font-size", 20);
yl.append("tspan").text("Log");
yl.append("tspan").attr("font-size", 13).attr("dy", 4).text("2");
yl.append("tspan").attr("dy", -4).text(" signal intensity ratio ");
yl.append("tspan").attr("font-style", "italic").text("nsrR");
yl.append("tspan").text(" / WT");
</script>
</body></html>
